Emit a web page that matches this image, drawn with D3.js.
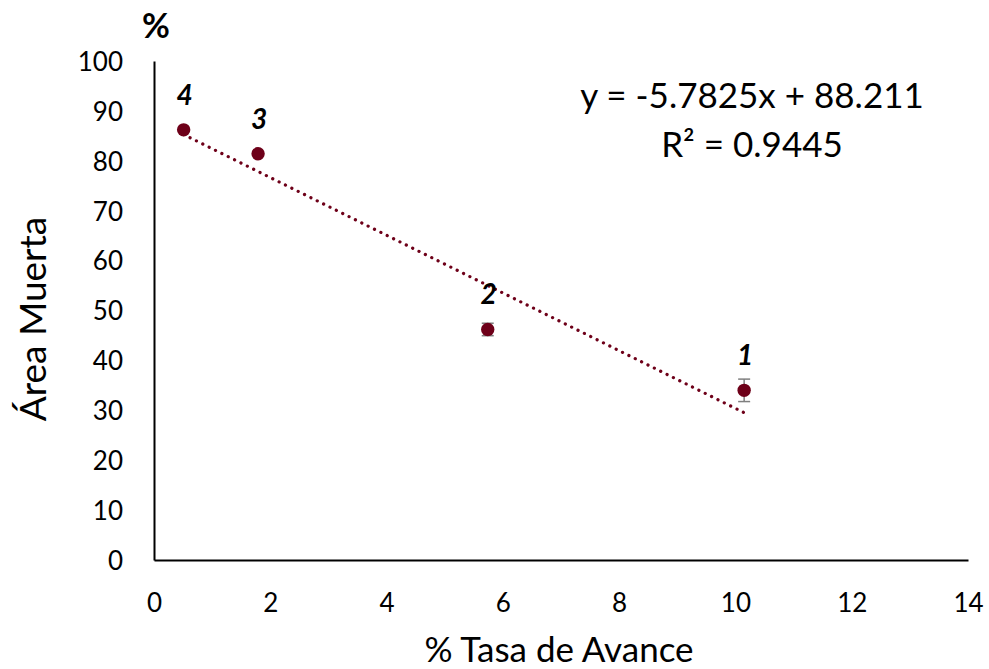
<!DOCTYPE html>
<html>
<head>
<meta charset="utf-8">
<script src="https://cdn.jsdelivr.net/npm/d3@7"></script>
<style>
  body { margin: 0; background: #fff; }
  svg text { font-family: Lato, "Open Sans", sans-serif; fill: #000; }
</style>
</head>
<body>
<svg width="989" height="669"></svg>
<script>
// Data
const labels = ['4', '3', '2', '1'];
const tasaAvance = [0.51, 1.79, 5.74, 10.15];
const areaMuerta = [86.2, 81.4, 46.2, 34.0];
const errores = [0, 0, 1.25, 2.25];
const xTicks = [0, 2, 4, 6, 8, 10, 12, 14];
const yTicks = [0, 10, 20, 30, 40, 50, 60, 70, 80, 90, 100];
const slope = -5.7825, intercept = 88.211, r2 = 0.9445;

const points = labels.map((l, i) => ({ label: l, x: tasaAvance[i], y: areaMuerta[i], err: errores[i] }));

const color = '#6e0019';
const svg = d3.select('svg');

const x = d3.scaleLinear().domain([0, 14]).range([154, 968]);
const y = d3.scaleLinear().domain([0, 100]).range([560, 61]);

// axes
const xAxis = svg.append('g')
    .attr('transform', `translate(0,${y(0)})`)
    .call(d3.axisBottom(x).tickValues(xTicks).tickSize(0).tickPadding(0));
const yAxis = svg.append('g')
    .attr('transform', `translate(${x(0)},0)`)
    .call(d3.axisLeft(y).tickValues(yTicks).tickSize(0).tickPadding(31));
[xAxis, yAxis].forEach(a => {
    a.select('.domain').attr('stroke', '#000').attr('stroke-width', 2);
    a.selectAll('text').style('font-size', '26px').style('font-family', 'Lato, sans-serif');
});
xAxis.selectAll('text').attr('dy', null).attr('y', 52);
yAxis.selectAll('text').attr('dy', '0.36em');

// trend line
const xs = d3.extent(tasaAvance);
svg.append('line')
    .attr('x1', x(xs[0])).attr('y1', y(slope * xs[0] + intercept))
    .attr('x2', x(xs[1])).attr('y2', y(slope * xs[1] + intercept))
    .attr('stroke', color)
    .attr('stroke-width', 3.2)
    .attr('stroke-linecap', 'round')
    .attr('stroke-dasharray', '0.1 7');

// error bars
const eb = svg.selectAll('.err')
    .data(points.filter(d => d.err > 0))
    .enter().append('g')
    .attr('stroke', '#7f7f7f')
    .attr('stroke-width', 1.5);
eb.append('line')
    .attr('x1', d => x(d.x)).attr('x2', d => x(d.x))
    .attr('y1', d => y(d.y + d.err)).attr('y2', d => y(d.y - d.err));
eb.append('line')
    .attr('x1', d => x(d.x) - 6).attr('x2', d => x(d.x) + 6)
    .attr('y1', d => y(d.y + d.err)).attr('y2', d => y(d.y + d.err));
eb.append('line')
    .attr('x1', d => x(d.x) - 6).attr('x2', d => x(d.x) + 6)
    .attr('y1', d => y(d.y - d.err)).attr('y2', d => y(d.y - d.err));

// points
svg.selectAll('.pt')
    .data(points)
    .enter().append('circle')
    .attr('cx', d => x(d.x))
    .attr('cy', d => y(d.y))
    .attr('r', 6.7)
    .attr('fill', color);

// point labels
svg.selectAll('.lbl')
    .data(points)
    .enter().append('text')
    .attr('x', d => x(d.x) + 1)
    .attr('y', d => y(d.y) - 25)
    .attr('text-anchor', 'middle')
    .style('font-size', '28px')
    .style('font-weight', 'bold')
    .style('font-style', 'italic')
    .text(d => d.label);

// equation
svg.append('text')
    .attr('x', 752).attr('y', 108)
    .attr('text-anchor', 'middle')
    .style('font-size', '35px')
    .text(`y = ${slope}x + ${intercept}`);
svg.append('text')
    .attr('x', 752).attr('y', 157)
    .attr('text-anchor', 'middle')
    .style('font-size', '35px')
    .text(`R² = ${r2}`);

// axis titles
svg.append('text')
    .attr('x', 559).attr('y', 662)
    .attr('text-anchor', 'middle')
    .style('font-size', '35px')
    .text('% Tasa de Avance');
svg.append('text')
    .attr('transform', 'translate(46,319) rotate(-90)')
    .attr('text-anchor', 'middle')
    .style('font-size', '37px')
    .text('Área Muerta');
svg.append('text')
    .attr('x', 156).attr('y', 38)
    .attr('text-anchor', 'middle')
    .style('font-size', '34px')
    .style('font-weight', 'bold')
    .text('%');
</script>
</body>
</html>
